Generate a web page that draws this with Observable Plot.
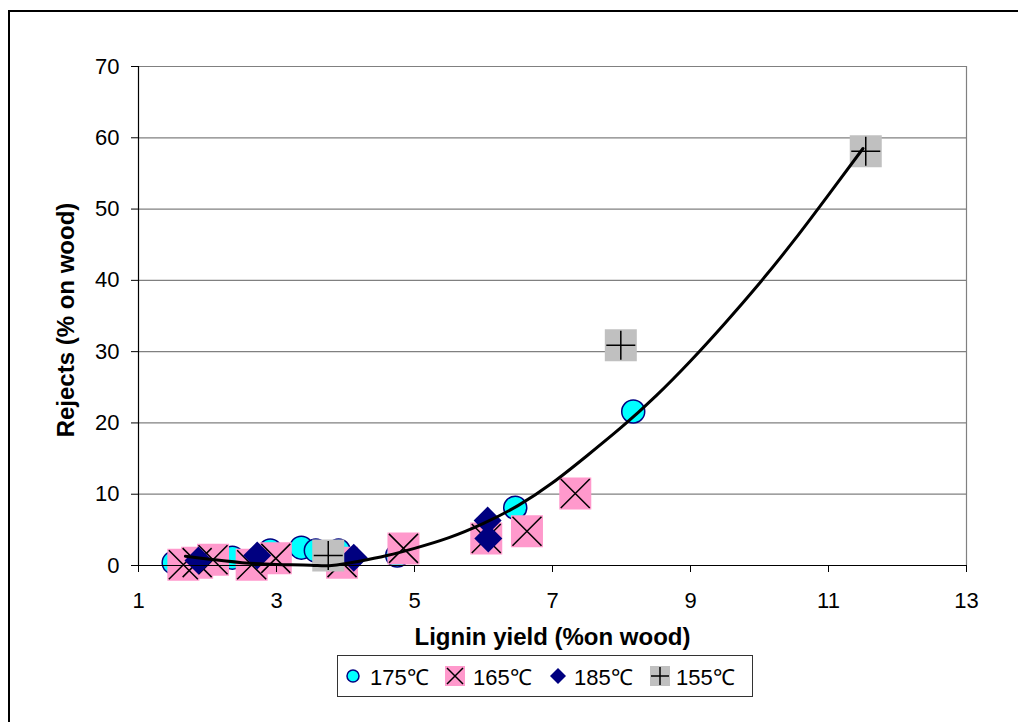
<!DOCTYPE html>
<html><head><meta charset="utf-8">
<script src="https://cdn.jsdelivr.net/npm/d3@7"></script>
<script src="https://cdn.jsdelivr.net/npm/@observablehq/plot@0.6"></script>
<style>
body{margin:0;background:#fff;font-family:"Liberation Sans",Arial,sans-serif;}
#wrap{position:relative;width:1018px;height:722px;overflow:hidden;background:#fff;}
#chart{position:absolute;left:0;top:0;}
#frame{position:absolute;left:8px;top:10px;width:1040px;height:740px;border:2px solid #000;box-sizing:border-box;pointer-events:none;}
#legend{position:absolute;left:337px;top:655px;width:416px;height:42px;border:1px solid #333;box-sizing:border-box;font-size:22px;color:#000;}
.item{position:absolute;top:0;height:40px;display:flex;align-items:center;white-space:nowrap;}
.item svg{display:block;}
</style></head>
<body><div id="wrap"><div id="chart"></div><div id="legend"></div><div id="frame"></div></div>
<script>
// ---- data ----
const seriesNames = ["175℃", "165℃", "185℃", "155℃"];
const x175 = [1.51, 2.36, 2.91, 3.36, 3.57, 3.90, 4.75, 6.46, 8.17];
const y175 = [0.4, 1.1, 2.1, 2.5, 2.1, 2.1, 1.4, 8.1, 21.6];
const x165 = [1.65, 1.85, 2.08, 2.64, 2.99, 3.95, 4.84, 6.04, 6.63, 7.33];
const y165 = [0.1, 0.4, 0.8, 0.1, 1.0, 0.4, 2.4, 3.8, 4.8, 10.1];
const x185 = [1.87, 2.72, 4.12, 6.06, 6.07];
const y185 = [0.7, 1.4, 1.1, 6.3, 3.8];
const x155 = [3.75, 7.99, 11.54];
const y155 = [1.4, 30.9, 58.1];
// trend line
const trendX = [1.68, 2.0, 2.5, 3.0, 3.5, 3.8, 4.2, 4.6, 5.0, 5.5, 6.0, 6.5, 7.0, 7.5, 8.0, 8.5, 9.0, 9.5, 10.0, 10.5, 11.0, 11.5];
const trendY = [1.3, 0.9, 0.4, 0.15, 0.05, 0.0, 0.6, 1.4, 2.4, 3.9, 5.9, 8.4, 11.6, 15.4, 19.4, 23.8, 28.7, 34.0, 39.6, 45.6, 52.0, 58.5];
const xTicks = [1, 3, 5, 7, 9, 11, 13];
const yTicks = [0, 10, 20, 30, 40, 50, 60, 70];
const xLabel = "Lignin yield (%on wood)";
const yLabel = "Rejects (% on wood)";

const zip = (xs, ys) => xs.map((x, i) => ({x, y: ys[i]}));
const d175 = zip(x175, y175), d165 = zip(x165, y165), d185 = zip(x185, y185), d155 = zip(x155, y155);
const trend = zip(trendX, trendY);

// custom marker shapes (r derived from the dot size)
const mk = f => ({draw(ctx, size) { f(ctx, Math.sqrt(size / Math.PI)); }});
const squareSym = mk((c, r) => { c.moveTo(-r, -r); c.lineTo(r, -r); c.lineTo(r, r); c.lineTo(-r, r); c.closePath(); });
const timesSym = mk((c, r) => { c.moveTo(-r, -r); c.lineTo(r, r); c.moveTo(r, -r); c.lineTo(-r, r); });
const plusSym = mk((c, r) => { c.moveTo(-r, 0); c.lineTo(r, 0); c.moveTo(0, -r); c.lineTo(0, r); });
const diamondSym = mk((c, r) => { c.moveTo(0, -r); c.lineTo(r, 0); c.lineTo(0, r); c.lineTo(-r, 0); c.closePath(); });

const FONT = "Liberation Sans, Arial, sans-serif";
const chart = Plot.plot({
  width: 1018, height: 625,
  marginLeft: 138, marginRight: 52, marginTop: 66, marginBottom: 60,
  style: {background: "transparent", fontFamily: FONT, overflow: "visible", color: "#000"},
  x: {domain: [1, 13]},
  y: {domain: [0, 70]},
  marks: [
    Plot.gridY(yTicks, {stroke: "#808080", strokeOpacity: 1, strokeWidth: 1.2}),
    Plot.ruleX([13], {stroke: "#808080", strokeWidth: 1.2}),
    Plot.dot(d175, {x: "x", y: "y", r: 11.5, fill: "#00FFFF", stroke: "#000080", strokeWidth: 1.5}),
    Plot.dot(d165, {x: "x", y: "y", symbol: squareSym, r: 16, fill: "#FF99CC", stroke: "none"}),
    Plot.dot(d165, {x: "x", y: "y", symbol: timesSym, r: 14.5, fill: "none", stroke: "#000", strokeWidth: 1.5}),
    Plot.dot(d185, {x: "x", y: "y", symbol: diamondSym, r: 14, fill: "#000080", stroke: "none"}),
    Plot.dot(d155, {x: "x", y: "y", symbol: squareSym, r: 16, fill: "#C0C0C0", stroke: "none"}),
    Plot.dot(d155, {x: "x", y: "y", symbol: plusSym, r: 14.5, fill: "none", stroke: "#000", strokeWidth: 1.5}),
    Plot.line(trend, {x: "x", y: "y", curve: "natural", stroke: "#000", strokeWidth: 3}),
    Plot.ruleY([0], {stroke: "#000", strokeWidth: 1.2}),
    Plot.ruleX([1], {stroke: "#000", strokeWidth: 1.2}),
    Plot.axisY(yTicks, {tickSize: 7, tickPadding: 12, fontSize: 22, label: null, stroke: "#000"}),
    Plot.axisX(xTicks, {tickSize: 7, tickPadding: 20, fontSize: 22, label: null, stroke: "#000"}),
    Plot.text([yLabel], {frameAnchor: "left", textAnchor: "middle", dx: -72, dy: 4, rotate: -90, fontSize: 24, fontWeight: "bold", fill: "#000"}),
    Plot.text([xLabel], {frameAnchor: "bottom", textAnchor: "middle", dy: 79, fontSize: 24, fontWeight: "bold", fill: "#000"})
  ]
});
document.getElementById("chart").appendChild(chart);

// legend
const swatches = [
  `<svg width="14" height="14"><circle cx="7" cy="7" r="6" fill="#00FFFF" stroke="#000080" stroke-width="1.5"/></svg>`,
  `<svg width="20" height="20"><rect width="20" height="20" fill="#FF99CC"/><path d="M2,2L18,18M18,2L2,18" stroke="#000" stroke-width="1.5"/></svg>`,
  `<svg width="16" height="16"><path d="M8,0L16,8L8,16L0,8Z" fill="#000080"/></svg>`,
  `<svg width="20" height="20"><rect width="20" height="20" fill="#C0C0C0"/><path d="M1,10H19M10,1V19" stroke="#000" stroke-width="1.5"/></svg>`
];
const itemLeft = [8, 107, 212, 312];
const textGap = [10, 8, 8, 6];
const legend = document.getElementById("legend");
seriesNames.forEach((name, i) => {
  const d = document.createElement("div");
  d.className = "item";
  d.style.left = itemLeft[i] + "px";
  d.innerHTML = swatches[i] + `<span style="margin-left:${textGap[i]}px">${name}</span>`;
  legend.appendChild(d);
});
</script>
</body></html>
